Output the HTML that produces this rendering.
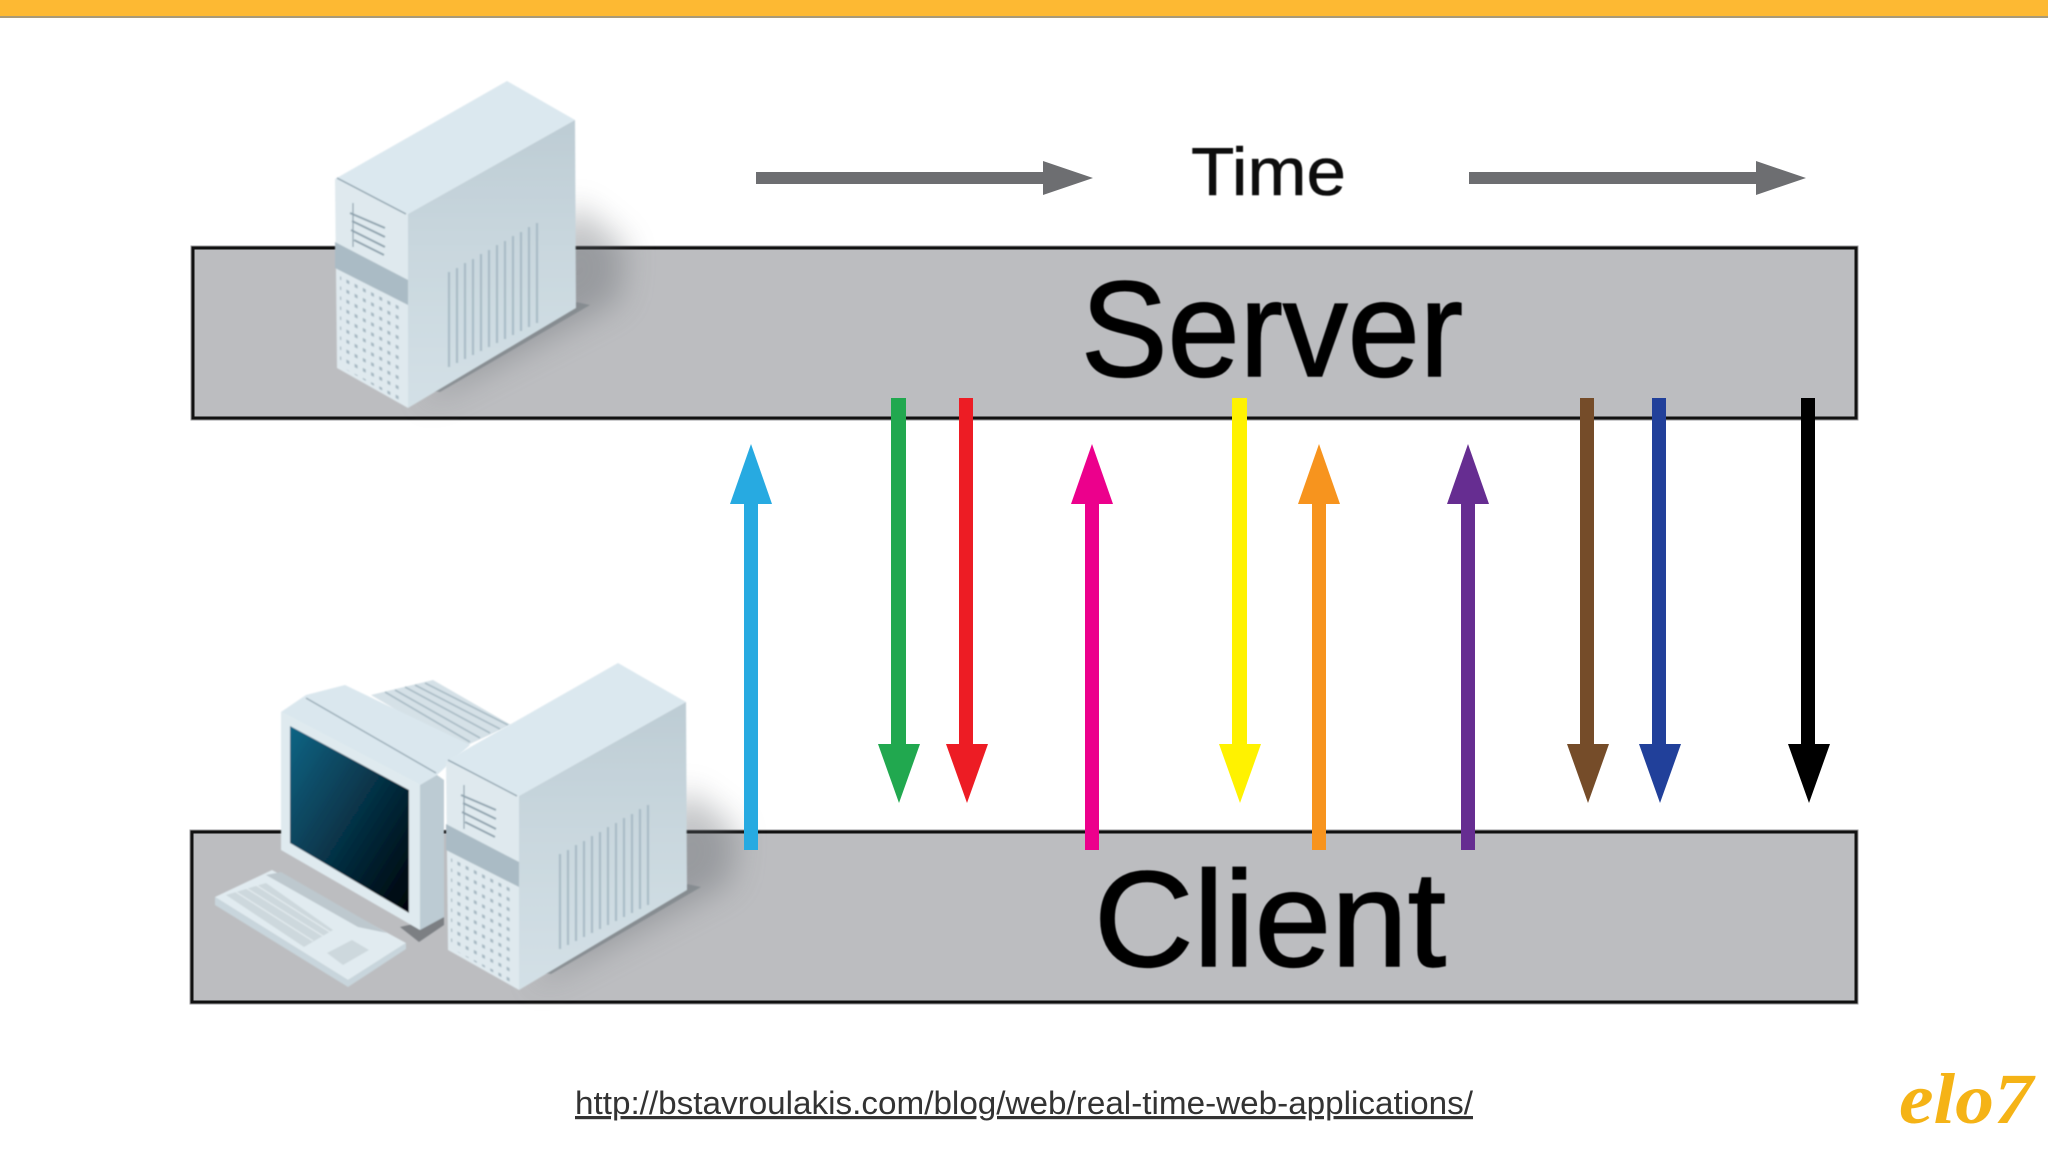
<!DOCTYPE html>
<html>
<head>
<meta charset="utf-8">
<title>Polling diagram</title>
<style>
html,body{margin:0;padding:0;background:#fff;width:2048px;height:1152px;overflow:hidden}
svg{display:block}
text{font-family:"Liberation Sans",sans-serif}
</style>
</head>
<body>
<svg xmlns="http://www.w3.org/2000/svg" width="2048" height="1152" viewBox="0 0 2048 1152">
<defs>
  <pattern id="dots" width="8.2" height="10" patternUnits="userSpaceOnUse" patternTransform="skewY(27)">
    <rect x="2" y="3" width="3" height="3.4" fill="#a6b8c2"/>
  </pattern>
  <linearGradient id="side" x1="0" y1="0" x2="0" y2="1">
    <stop offset="0" stop-color="#bdccd4"/>
    <stop offset="0.45" stop-color="#c9d7de"/>
    <stop offset="1" stop-color="#d3e0e6"/>
  </linearGradient>
  <linearGradient id="screen" x1="0" y1="0" x2="1" y2="1">
    <stop offset="0" stop-color="#0f6585"/>
    <stop offset="0.45" stop-color="#07394f"/>
    <stop offset="1" stop-color="#000208"/>
  </linearGradient>
  <filter id="soft" x="-5%" y="-5%" width="110%" height="110%"><feGaussianBlur stdDeviation="0.8"/></filter>
  <filter id="txt" x="-5%" y="-5%" width="110%" height="110%"><feGaussianBlur stdDeviation="0.5"/></filter>
  <filter id="shadow" x="-40%" y="-40%" width="180%" height="180%"><feGaussianBlur stdDeviation="16"/></filter>
  <g id="tower">
    <polygon points="335,179 507,81 575,120 408,214" fill="#dbe8ef"/>
    <polygon points="408,214 575,120 576,308 408,408" fill="url(#side)"/>
    <polygon points="335,179 408,214 408,408 337,368" fill="#dfe9ee"/>
    <polygon points="335,242 408,280 408,305 335,268" fill="#aabbc5"/>
    <polyline points="337,178 406,214" fill="none" stroke="#8fa3ae" stroke-width="1.4"/>
    <g stroke="#8ea2ad" stroke-width="2" fill="none">
      <line x1="350" y1="213" x2="385" y2="228"/>
      <line x1="352" y1="221" x2="385" y2="237"/>
      <line x1="351" y1="230" x2="385" y2="247"/>
      <line x1="354" y1="240" x2="384" y2="255"/>
      <line x1="353" y1="203" x2="353" y2="247" stroke-width="1.2"/>
    </g>
    <polygon points="340,275 402,307 402,402 340,366" fill="url(#dots)"/>
    <g stroke="#a9bcc6" stroke-width="2.2">
      <line x1="449" y1="272" x2="449" y2="367"/>
      <line x1="457" y1="268" x2="457" y2="363"/>
      <line x1="465" y1="263" x2="465" y2="359"/>
      <line x1="473" y1="259" x2="473" y2="355"/>
      <line x1="481" y1="254" x2="481" y2="351"/>
      <line x1="489" y1="250" x2="489" y2="347"/>
      <line x1="497" y1="245" x2="497" y2="343"/>
      <line x1="505" y1="241" x2="505" y2="339"/>
      <line x1="513" y1="236" x2="513" y2="335"/>
      <line x1="521" y1="232" x2="521" y2="331"/>
      <line x1="529" y1="227" x2="529" y2="327"/>
      <line x1="537" y1="223" x2="537" y2="323"/>
    </g>
  </g>
</defs>

<!-- top bar -->
<rect x="0" y="0" width="2048" height="17" fill="#fdb933"/>
<rect x="0" y="16" width="2048" height="2" fill="#a89a78"/>

<!-- bands -->
<rect x="193" y="248" width="1663" height="170" fill="#bcbdc0" stroke="#9a9a9c" stroke-width="5"/>
<rect x="193" y="248" width="1663" height="170" fill="#bcbdc0" stroke="#111" stroke-width="3"/>
<rect x="192" y="832" width="1664" height="170" fill="#bcbdc0" stroke="#9a9a9c" stroke-width="5"/>
<rect x="192" y="832" width="1664" height="170" fill="#bcbdc0" stroke="#111" stroke-width="3"/>

<!-- shadows -->
<polygon points="575,205 625,245 620,300 420,405" fill="#5e6469" opacity="0.38" filter="url(#shadow)"/>
<polygon points="686,790 736,828 731,882 530,988" fill="#5e6469" opacity="0.38" filter="url(#shadow)"/>
<polygon points="576,302 590,305 440,392 430,390" fill="#7c8388" opacity="0.7" filter="url(#soft)"/>
<polygon points="687,884 701,887 551,974 541,972" fill="#7c8388" opacity="0.7" filter="url(#soft)"/>

<!-- server tower -->
<use href="#tower" filter="url(#soft)"/>

<!-- client computer -->
<g filter="url(#soft)">
  <polygon points="371,695 433,680 511,725 461,748" fill="#d5e1e7"/>
  <g stroke="#a9bbc5" stroke-width="1.6">
    <line x1="385" y1="692" x2="470" y2="742"/>
    <line x1="395" y1="690" x2="480" y2="738"/>
    <line x1="405" y1="687" x2="490" y2="733"/>
    <line x1="415" y1="685" x2="500" y2="729"/>
    <line x1="425" y1="683" x2="508" y2="725"/>
  </g>
  <polygon points="400,927 444,917 444,925 419,942" fill="#7b7f83"/>
  <polygon points="281,712 306,695 345,685 470,745 437,775 420,785" fill="#dae7ee"/>
  <line x1="306" y1="698" x2="436" y2="773" stroke="#98abb6" stroke-width="1.4"/>
  <polygon points="420,785 437,775 444,780 444,917 420,930" fill="#bccbd3"/>
  <polygon points="281,712 420,785 420,930 281,850" fill="#dfeaef"/>
  <polygon points="290,726 409,790 409,913 290,843" fill="url(#screen)"/>
  <!-- keyboard -->
  <polygon points="215,897 272,870 406,943 348,980" fill="#e1ebf0"/>
  <polygon points="215,897 348,980 406,943 406,949 348,987 215,905" fill="#c8d5dc"/>
  <polygon points="226,895 266,883 333,930 304,947" fill="#cdd8dd"/>
  <polygon points="327,953 352,940 369,950 343,965" fill="#cdd8dd"/>
  <polygon points="266,875 281,872 387,933 358,927" fill="#bdc8ce"/>
  <g stroke="#e4ecf0" stroke-width="1.2">
    <line x1="236" y1="892" x2="313" y2="941"/>
    <line x1="246" y1="888" x2="323" y2="936"/>
    <line x1="256" y1="885" x2="330" y2="932"/>
  </g>
</g>
<use href="#tower" transform="translate(111,582)" filter="url(#soft)"/>

<!-- time arrows -->
<polygon points="756,172 1043,172 1043,161 1093,178 1043,195 1043,184 756,184" fill="#6d6e71"/>
<polygon points="1469,172 1756,172 1756,161 1806,178 1756,195 1756,184 1469,184" fill="#6d6e71"/>

<!-- up arrows -->
<polygon points="744,850 744,504 730,504 751,444 772,504 758,504 758,850" fill="#27aae1"/>
<polygon points="1085,850 1085,504 1071,504 1092,444 1113,504 1099,504 1099,850" fill="#ec008c"/>
<polygon points="1312,850 1312,504 1298,504 1319,444 1340,504 1326,504 1326,850" fill="#f7941e"/>
<polygon points="1461,850 1461,504 1447,504 1468,444 1489,504 1475,504 1475,850" fill="#662d91"/>

<!-- down arrows -->
<polygon points="891,398 891,744 878,744 899,803 920,744 906,744 906,398" fill="#21a84f"/>
<polygon points="959,398 959,744 946,744 967,803 988,744 973,744 973,398" fill="#ed1c24"/>
<polygon points="1232,398 1232,744 1219,744 1240,803 1261,744 1247,744 1247,398" fill="#fff200"/>
<polygon points="1580,398 1580,744 1567,744 1588,803 1609,744 1594,744 1594,398" fill="#754c29"/>
<polygon points="1652,398 1652,744 1639,744 1660,803 1681,744 1666,744 1666,398" fill="#21409a"/>
<polygon points="1801,398 1801,744 1788,744 1809,803 1830,744 1815,744 1815,398" fill="#000"/>

<!-- labels -->
<g filter="url(#txt)">
<text x="1191" y="195" font-size="68" fill="#111" stroke="#111" stroke-width="0.6" textLength="155" lengthAdjust="spacingAndGlyphs">Time</text>
<text x="1081" y="376" font-size="136" fill="#000" stroke="#000" stroke-width="1.6" textLength="382" lengthAdjust="spacingAndGlyphs">Server</text>
<text x="1094" y="966" font-size="136" fill="#000" stroke="#000" stroke-width="1.6" textLength="352" lengthAdjust="spacingAndGlyphs">Client</text>
</g>

<text x="575" y="1114" font-size="32" fill="#333" text-decoration="underline" textLength="898" lengthAdjust="spacingAndGlyphs">http://bstavroulakis.com/blog/web/real-time-web-applications/</text>

<text x="1899" y="1123" font-size="72" fill="#f5b316" font-weight="bold" font-style="italic" style="font-family:'Liberation Serif',serif" textLength="134" lengthAdjust="spacingAndGlyphs">elo7</text>
</svg>
</body>
</html>
